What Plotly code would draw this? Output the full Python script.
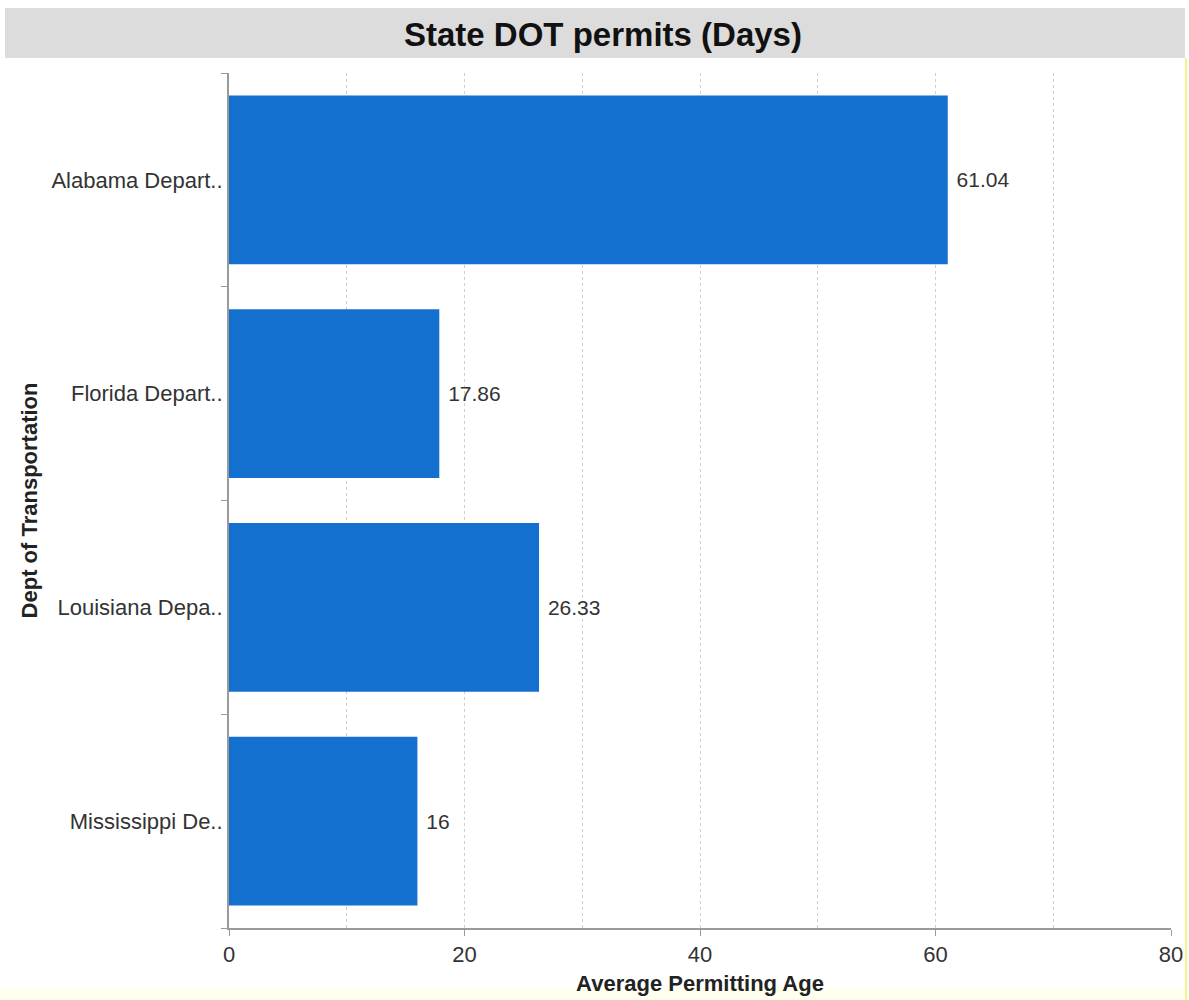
import plotly.graph_objects as go

categories = ["Alabama Depart..", "Florida Depart..", "Louisiana Depa..", "Mississippi De.."]
values = [61.04, 17.86, 26.33, 16]
value_labels = ["61.04", "17.86", "26.33", "16"]
x_tick_vals = [0, 20, 40, 60, 80]
x_grid_vals = [10, 20, 30, 40, 50, 60, 70]

W, H = 1189, 1000
ml, mr, mt, mb = 229, 18, 73, 72
pw, ph = W - ml - mr, H - mt - mb

def px_x(p):
    return (p - ml) / pw

def px_y(q):
    return (H - mb - q) / ph

FONT = "Liberation Sans, Arial, Helvetica, sans-serif"

fig = go.Figure()
fig.add_trace(go.Bar(
    x=values, y=categories, orientation="h",
    marker=dict(color="#1370CF", line=dict(width=0)),
    text=value_labels, texttemplate="\u00a0%{text}", textposition="outside",
    textfont=dict(family=FONT, size=21, color="#333333"),
    cliponaxis=False, width=0.79,
    hoverinfo="x+y",
))

fig.update_layout(
    width=W, height=H,
    margin=dict(l=ml, r=mr, t=mt, b=mb),
    paper_bgcolor="white", plot_bgcolor="white",
    showlegend=False,
    font=dict(family=FONT, color="#333333"),
    xaxis=dict(
        range=[0, 80], tickvals=x_tick_vals, showgrid=False, zeroline=False,
        showline=True, linecolor="#9a9a9a", linewidth=2,
        ticks="outside", ticklen=6, tickcolor="#9a9a9a", tickwidth=1,
        tickfont=dict(size=22, color="#333333"),
        title=dict(text="<b>Average Permitting Age</b>", font=dict(size=22, color="#222222"), standoff=9),
        minor=dict(tickvals=x_grid_vals, showgrid=True, gridcolor="#cfcfcf",
                   griddash="dot", gridwidth=1, ticks=""),
        automargin=False,
        fixedrange=True,
    ),
    yaxis=dict(
        categoryorder="array", categoryarray=categories[::-1],
        tickson="boundaries", ticks="outside", ticklen=6, tickcolor="#9a9a9a",
        showline=True, linecolor="#9a9a9a", linewidth=2,
        showgrid=False, zeroline=False,
        tickfont=dict(size=22, color="#333333"),
        title=dict(text="<b>Dept of Transportation</b>", font=dict(size=22, color="#222222"), standoff=8),
        automargin=False,
        fixedrange=True,
    ),
    shapes=[
        dict(type="rect", xref="paper", yref="paper",
             x0=px_x(5), x1=px_x(1185), y0=px_y(58), y1=px_y(8),
             fillcolor="#DCDCDC", line=dict(width=0), layer="below"),
        dict(type="rect", xref="paper", yref="paper",
             x0=px_x(0), x1=px_x(1185), y0=px_y(1000), y1=px_y(988),
             fillcolor="#FFFFF0", line=dict(width=0), layer="below"),
        dict(type="line", xref="paper", yref="paper",
             x0=px_x(1186), x1=px_x(1186), y0=px_y(1000), y1=px_y(58),
             line=dict(color="#F4F48A", width=2)),
    ],
    annotations=[
        dict(text="<b>State DOT permits (Days)</b>", xref="paper", yref="paper",
             x=px_x(603), y=px_y(34), xanchor="center", yanchor="middle",
             showarrow=False, font=dict(size=33, color="#111111", family=FONT)),
    ],
)

fig.write_html("out.html")
